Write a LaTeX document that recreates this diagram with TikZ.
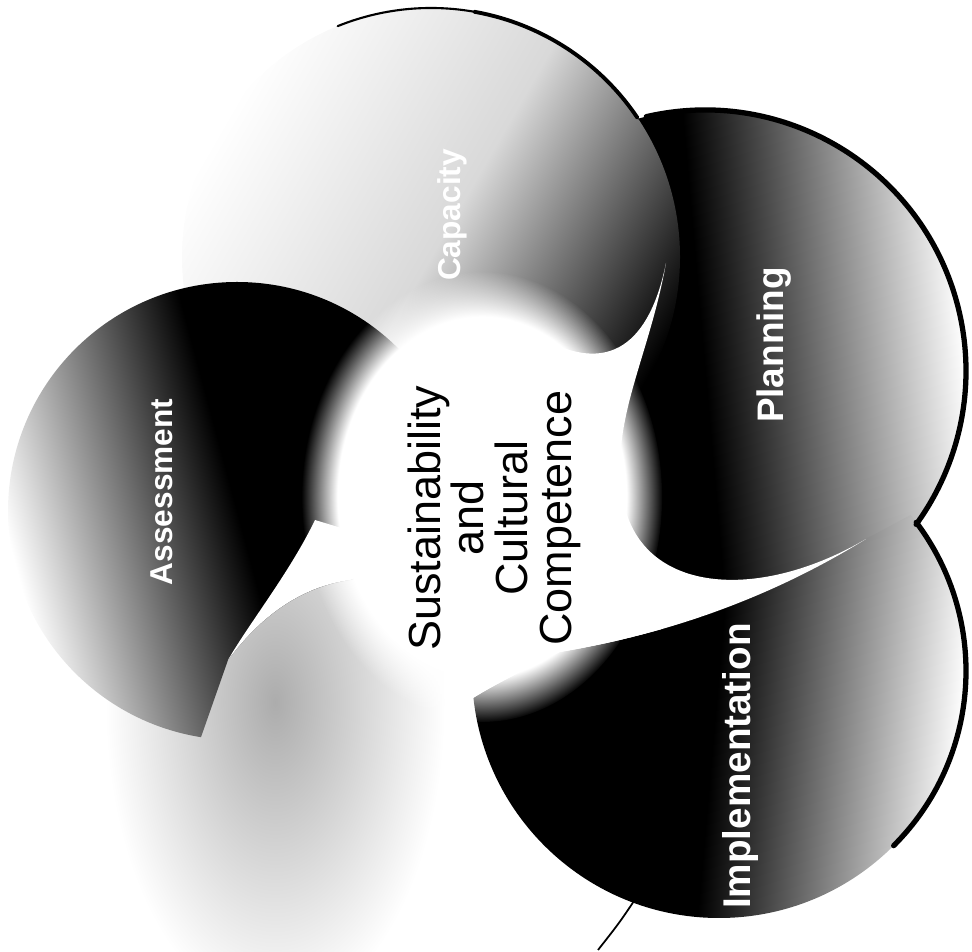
\documentclass[tikz,border=0pt]{standalone}
\usepackage{fontspec}
\setmainfont{Liberation Sans}
\usetikzlibrary{fadings}
\pgfdeclareradialshading{softdisc}{\pgfpointorigin}{color(0bp)=(white); color(20bp)=(white); color(25bp)=(black); color(50bp)=(black)}
\pgfdeclarefading{softedge}{\pgfuseshading{softdisc}}
\begin{document}
\begin{tikzpicture}[x=0.1mm, y=0.1mm,
  rim/.style={line width=1.5pt, line cap=round},
  lobelabel/.style={rotate=90, text=white, inner sep=0pt, font=\bfseries\fontsize{10.5}{12}\selectfont},
  core/.style={rotate=90, align=center, inner sep=0pt, font=\fontsize{12.8}{12.4}\selectfont}]
  \useasboundingbox (0,0) rectangle (972,952);
  \coordinate (plan) at (705,581);
  \coordinate (cap) at (431,695);
  \coordinate (assess) at (237,441);
  \coordinate (eval) at (275,250);
  \coordinate (impl) at (719,281);
  \coordinate (mid) at (482,455);
  % lobes
  \shade[inner color=gray!65, outer color=white] (eval) ellipse (170 and 310);
  \shade[top color=black, bottom color=white, middle color=black, shading angle=95] (plan) circle (261);
  \shade[top color=black, bottom color=white, middle color=gray!30, shading angle=-120] (cap) circle (249);
  \begin{scope}
    \clip (0,0) -- (190,0) -- (200,212) -- (228,292)
      .. controls (260,335) and (300,365) .. (350,372) -- (600,372) -- (600,952) -- (0,952) -- cycle;
    \shade[top color=black, bottom color=white, middle color=black, shading angle=-75] (assess) circle (229);
  \end{scope}
  \begin{scope}
    \clip (470,252) .. controls (490,265) and (520,280) .. (560,300)
      .. controls (680,320) and (780,360) .. (866,413) -- (972,470) -- (972,0) -- (400,0) -- cycle;
    \shade[top color=black, bottom color=white, middle color=black, shading angle=85] (impl) circle (247);
  \end{scope}
  % white centre and blades
  \fill[white, path fading=softedge] (mid) ellipse (180 and 225);
  \fill[white] (540,615) .. controls (610,575) and (650,610) .. (666,689)
    .. controls (650,600) and (615,540) .. (621,472) -- (540,470) -- cycle;
  \fill[white] (621,472) .. controls (625,360) and (750,345) .. (866,413)
    .. controls (780,360) and (680,320) .. (560,300)
    .. controls (520,280) and (490,265) .. (470,252) -- (520,420) -- cycle;
  \fill[white] (315,432) .. controls (290,380) and (250,330) .. (228,292)
    .. controls (260,335) and (300,365) .. (350,372) -- (420,400) -- cycle;
  % rims
  \draw[rim, line width=0.6pt] (cap) ++(112:249) arc[start angle=112, end angle=80, radius=249];
  \draw[rim, line width=1.1pt] (cap) ++(80:249) arc[start angle=80, end angle=34, radius=249];
  \draw[rim] (plan) ++(103:261) arc[start angle=103, end angle=-36, radius=261];
  \draw[rim] (impl) ++(37:247) arc[start angle=37, end angle=-45, radius=247];
  \draw[line width=0.5pt] (640,60) .. controls (620,30) .. (598,2);
  % labels
  \node[core] (centre) at (494,434) {Sustainability\\and\\Cultural\\Competence};
  \node[lobelabel] (planning) at (774,607) {Planning};
  \node[lobelabel, font=\bfseries\fontsize{11}{12}\selectfont] (implementation) at (740,186) {Implementation};
  \node[lobelabel, font=\bfseries\fontsize{9}{11}\selectfont] (assessment) at (162,460) {Assessment};
  \node[lobelabel, font=\bfseries\fontsize{9}{11}\selectfont] (capacity) at (452,737) {Capacity};
\end{tikzpicture}
\end{document}
